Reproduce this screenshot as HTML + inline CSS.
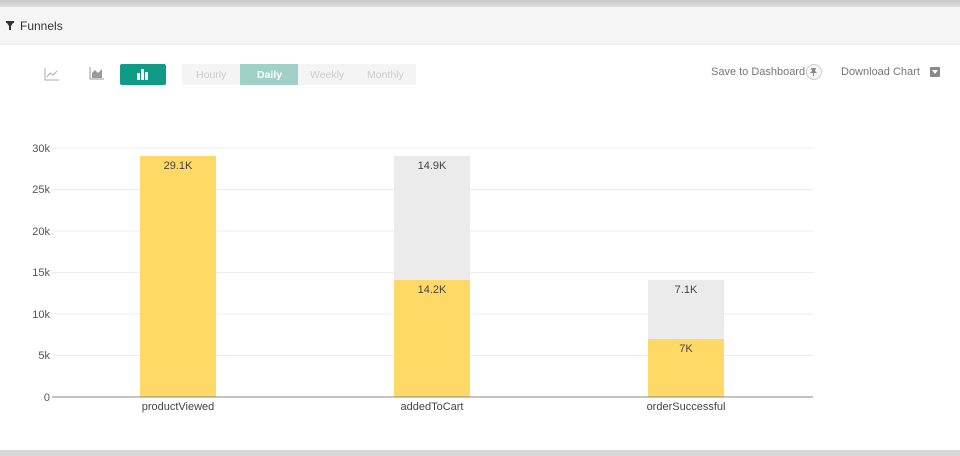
<!DOCTYPE html>
<html><head><style>
body{margin:0;width:960px;height:456px;background:#fff;font-family:"Liberation Sans",sans-serif;position:relative;overflow:hidden}
.a{position:absolute}
</style></head><body>
<div class="a" style="left:0;top:0;width:960px;height:7px;background:linear-gradient(#c8c8c8,#dedede)"></div>
<div class="a" style="left:0;top:7px;width:960px;height:37px;background:#f5f5f5;border-bottom:1px solid #ececec"></div>
<svg class="a" style="left:6px;top:21px" width="9" height="9"><rect x="0" y="0" width="8" height="2" fill="#333"/><path d="M1 2H7L5 5V9H3V5Z" fill="#333"/></svg>
<div class="a" style="left:20px;top:19px;font-size:12px;color:#333">Funnels</div>
<svg class="a" style="left:44px;top:67px" width="16" height="14"><path d="M1 1V13H15" stroke="#aaa" fill="none"/><path d="M3 10L6 6L9 8L13 4" stroke="#aaa" fill="none"/></svg>
<svg class="a" style="left:89px;top:66px" width="16" height="14"><path d="M1 1V13H15" stroke="#999" fill="none"/><path d="M3 12V7L6 4L9 7L13 3V12Z" fill="#999"/></svg>
<div class="a" style="left:120px;top:64px;width:46px;height:21px;background:#0f9b85;border-radius:2px"></div>
<svg class="a" style="left:136px;top:68px" width="14" height="12"><rect x="1" y="5" width="3" height="7" fill="#fff"/><rect x="5" y="1" width="3" height="11" fill="#fff"/><rect x="9" y="4" width="3" height="8" fill="#fff"/></svg>
<div class="a" style="left:182px;top:64px;width:234px;height:21px;background:#f4f4f4"></div>
<div class="a" style="left:240px;top:64px;width:58px;height:21px;background:#9fd1c6"></div>
<div class="a" style="top:69px;font-size:10.5px;color:#ccc;left:196px">Hourly</div>
<div class="a" style="top:69px;font-size:10.5px;color:#fff;left:257px;font-weight:bold">Daily</div>
<div class="a" style="top:69px;font-size:10.5px;color:#ccc;left:310px">Weekly</div>
<div class="a" style="top:69px;font-size:10.5px;color:#ccc;left:367px">Monthly</div>
<div class="a" style="top:66px;font-size:11px;color:#777;left:711px">Save to Dashboard</div>
<div class="a" style="left:806px;top:64px;width:14px;height:14px;border:1px solid #ccc;border-radius:50%;background:#f6f6f6"></div>
<svg class="a" style="left:809px;top:67px" width="9" height="9"><path d="M2 1H7L6 4L8 6H1L3 4Z" fill="#888"/><rect x="4" y="6" width="1" height="3" fill="#888"/></svg>
<div class="a" style="top:66px;font-size:11px;color:#777;left:841px">Download Chart</div>
<div class="a" style="left:930px;top:67px;width:10px;height:10px;background:#888;border-radius:1px"></div>
<svg class="a" style="left:932px;top:70px" width="6" height="4"><path d="M0 0H6L3 4Z" fill="#fff"/></svg>
<svg class="a" style="left:0;top:0" width="960" height="456" font-family="Liberation Sans, sans-serif">
<g stroke="#ececec">
<line x1="52" x2="813" y1="148" y2="148"/><line x1="52" x2="813" y1="189.5" y2="189.5"/><line x1="52" x2="813" y1="231" y2="231"/><line x1="52" x2="813" y1="272.5" y2="272.5"/><line x1="52" x2="813" y1="314" y2="314"/><line x1="52" x2="813" y1="355.5" y2="355.5"/>
</g>
<g font-size="11" fill="#555" text-anchor="end">
<text x="50" y="152">30k</text><text x="50" y="193">25k</text><text x="50" y="235">20k</text><text x="50" y="276">15k</text><text x="50" y="318">10k</text><text x="50" y="359">5k</text><text x="50" y="401">0</text>
</g>
<rect x="140" y="156" width="76" height="241" fill="#ffd966"/>
<rect x="394" y="156" width="76" height="124" fill="#ebebeb"/>
<rect x="394" y="280" width="76" height="117" fill="#ffd966"/>
<rect x="648" y="280" width="76" height="59" fill="#ebebeb"/>
<rect x="648" y="339" width="76" height="58" fill="#ffd966"/>
<line x1="52" x2="813" y1="397" y2="397" stroke="#888"/>
<g font-size="11" fill="#444" text-anchor="middle">
<text x="178" y="169">29.1K</text><text x="432" y="169">14.9K</text><text x="432" y="293">14.2K</text><text x="686" y="293">7.1K</text><text x="686" y="352">7K</text>
<text x="178" y="410">productViewed</text><text x="432" y="410">addedToCart</text><text x="686" y="410">orderSuccessful</text>
</g>
</svg>
<div class="a" style="left:0;top:450px;width:960px;height:6px;background:#d8d8d8"></div>
</body></html>
